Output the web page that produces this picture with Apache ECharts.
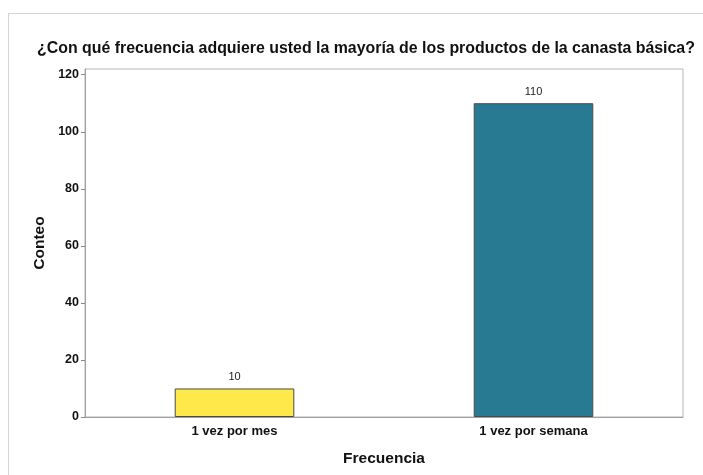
<!DOCTYPE html>
<html>
<head>
    <meta http-equiv="Content-Type" content="text/html; charset=UTF-8">
    <title>ECharts</title>
    <script src="https://cdn.jsdelivr.net/npm/echarts@6/dist/echarts.min.js"></script>
    <style>
        body { margin: 0; background: #fff; }
        #frame { position: absolute; left: 8px; top: 13px; width: 720px; height: 500px; border: 1px solid #d4d4d4; }
        #chart { position: absolute; left: 0; top: 0; width: 703px; height: 475px; }
    </style>
</head>
<body>
<div id="frame"></div>
<div id="chart"></div>

<script type="text/javascript">
    var categories = ['1 vez por mes', '1 vez por semana'];
    var counts = [10, 110];
    var barColors = ['#FFE94A', '#287A92'];
    var yTicks = [0, 20, 40, 60, 80, 100, 120];

    var chart = echarts.init(document.getElementById('chart'));

    chart.setOption({
        animation: false,
        textStyle: { fontFamily: 'Liberation Sans, Arial, sans-serif' },
        title: {
            text: '¿Con qué frecuencia adquiere usted la mayoría de los productos de la canasta básica?',
            left: 32,
            top: 36,
            textStyle: { fontSize: 15.9, fontWeight: 'bold', color: '#111' }
        },
        grid: {
            left: 85, right: 20, top: 69, bottom: 58,
            show: true, borderColor: '#b5b5b5', borderWidth: 1
        },
        xAxis: {
            type: 'category',
            data: categories,
            name: 'Frecuencia',
            nameLocation: 'middle',
            nameGap: 34,
            nameTextStyle: { fontSize: 15.5, fontWeight: 'bold', color: '#111' },
            axisLine: { lineStyle: { color: '#a0a0a0' } },
            axisTick: { alignWithLabel: true, length: 4, lineStyle: { color: '#888' } },
            axisLabel: { fontSize: 13, fontWeight: 'bold', color: '#111', margin: 8 }
        },
        yAxis: {
            type: 'value',
            min: 0,
            max: 122,
            name: 'Conteo',
            nameLocation: 'middle',
            nameGap: 37,
            nameTextStyle: { fontSize: 15.5, fontWeight: 'bold', color: '#111' },
            splitLine: { show: false },
            axisLine: { show: true, lineStyle: { color: '#a0a0a0' } },
            axisTick: { show: true, length: 4, customValues: yTicks, lineStyle: { color: '#888' } },
            axisLabel: { fontSize: 12.5, fontWeight: 'bold', color: '#111', margin: 6, customValues: yTicks }
        },
        series: [{
            type: 'bar',
            barWidth: '40%',
            data: counts.map(function (v, i) {
                return { value: v, itemStyle: { color: barColors[i] } };
            }),
            itemStyle: { borderColor: '#4a4a4a', borderWidth: 1 },
            label: { show: true, position: 'top', fontSize: 11, color: '#222', distance: 6 }
        }]
    });
</script>

</body>
</html>
